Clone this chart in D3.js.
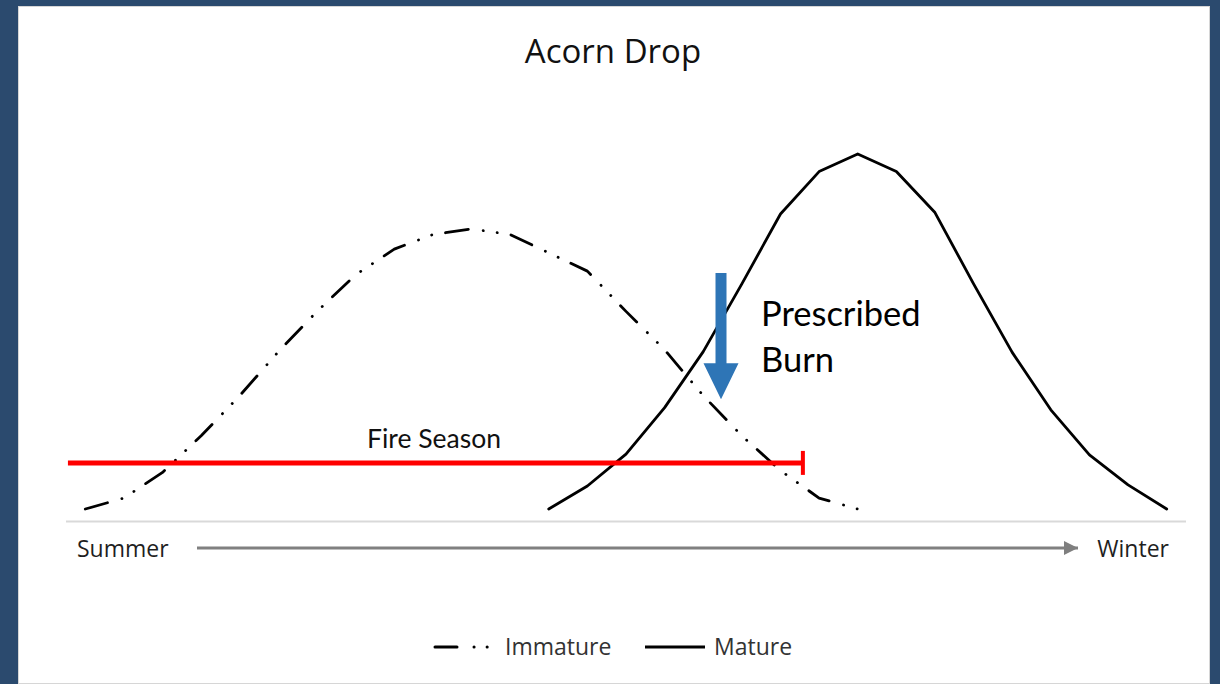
<!DOCTYPE html>
<html>
<head>
<meta charset="utf-8">
<script src="https://cdn.jsdelivr.net/npm/d3@7"></script>
<style>
  html, body { margin: 0; padding: 0; background: #2b4a6e; }
  #chart { position: absolute; left: 18px; top: 6px; width: 1192px; height: 678px; }
  svg { display: block; }
</style>
</head>
<body>
<div id="chart"></div>
<script>
// data (relative drop, peak of mature = 100)
var immature = [3, 6, 13, 23, 34, 46, 57, 67, 74, 78, 79.5, 78, 73, 68, 57, 46.5, 34, 23, 13.5, 6, 3];
var immatureStart = 0;
var mature = [3, 9.3, 18, 30.7, 46, 64.5, 83.6, 95.2, 100, 95.2, 84, 64.5, 45.8, 30.1, 17.8, 9.6, 3];
var matureStart = 12;
var numSlots = 29;
var seasonLabels = ["Summer", "Winter"];
var legendLabels = ["Immature", "Mature"];
var fireSeason = [-0.45, 18.58];   // in slot units
var fireLevel = 15.6;
var burnSlot = 16.46;
var burnRange = [67.5, 33];

var view_width = 1192;
var view_height = 678;
var ox = 18, oy = 6;   // page offset of the white panel

var svg = d3.select('#chart')
    .append('svg')
        .attr('width', view_width)
        .attr('height', view_height);

svg.append('rect')
    .attr('width', view_width)
    .attr('height', view_height)
    .attr('fill', '#ffffff')
    .attr('stroke', '#d6d6d6')
    .attr('stroke-width', 2);

var plot = svg.append('g')
    .attr('transform', 'translate(' + (-ox) + ',' + (-oy) + ')');

var x_scale = d3.scaleLinear()
    .domain([-0.5, numSlots - 0.5])
    .range([66, 1186]);
var y_scale = d3.scaleLinear()
    .domain([0, 100])
    .range([520, 154]);

// title
plot.append('text')
    .attr('x', 613)
    .attr('y', 63)
    .attr('text-anchor', 'middle')
    .attr('font-family', 'Open Sans')
    .attr('font-size', 33)
    .attr('fill', '#111111')
    .text('Acorn Drop');

// baseline
plot.append('line')
    .attr('x1', x_scale(-0.5)).attr('x2', x_scale(numSlots - 0.5))
    .attr('y1', y_scale(0) + 1.5).attr('y2', y_scale(0) + 1.5)
    .attr('stroke', '#d9d9d9')
    .attr('stroke-width', 2);

var line = d3.line()
    .x(function(d) { return x_scale(d.i); })
    .y(function(d) { return y_scale(d.v); });

var series = [
    {name: legendLabels[0], data: immature.map(function(v, k) { return {i: immatureStart + k, v: v}; }),
     dash: '23 15 0.1 14 0.1 14'},
    {name: legendLabels[1], data: mature.map(function(v, k) { return {i: matureStart + k, v: v}; }),
     dash: null}
];

plot.selectAll('.series')
    .data(series)
    .enter()
    .append('path')
        .attr('class', 'series')
        .attr('d', function(d) { return line(d.data); })
        .attr('fill', 'none')
        .attr('stroke', '#000000')
        .attr('stroke-width', 2.8)
        .attr('stroke-linecap', 'round')
        .attr('stroke-linejoin', 'round')
        .attr('stroke-dasharray', function(d) { return d.dash; });

// fire season bar
plot.append('line')
    .attr('x1', x_scale(fireSeason[0])).attr('x2', x_scale(fireSeason[1]))
    .attr('y1', y_scale(fireLevel)).attr('y2', y_scale(fireLevel))
    .attr('stroke', '#ff0000')
    .attr('stroke-width', 5);
plot.append('line')
    .attr('x1', x_scale(fireSeason[1])).attr('x2', x_scale(fireSeason[1]))
    .attr('y1', y_scale(fireLevel) - 12).attr('y2', y_scale(fireLevel) + 12)
    .attr('stroke', '#ff0000')
    .attr('stroke-width', 4);
plot.append('text')
    .attr('x', 434)
    .attr('y', 448)
    .attr('text-anchor', 'middle')
    .attr('font-family', 'Lato')
    .attr('font-size', 26.5)
    .attr('fill', '#111111')
    .text('Fire Season');

// prescribed burn arrow
var bx = x_scale(burnSlot);
var by0 = y_scale(burnRange[0]);
var by1 = y_scale(burnRange[1]);
plot.append('path')
    .attr('d', 'M' + (bx - 5.5) + ',' + by0 + 'H' + (bx + 5.5) + 'V' + (by1 - 36) +
               'H' + (bx + 17.5) + 'L' + bx + ',' + by1 + 'L' + (bx - 17.5) + ',' + (by1 - 36) +
               'H' + (bx - 5.5) + 'Z')
    .attr('fill', '#2e75b6');
var burn = plot.append('text')
    .attr('font-family', 'Lato')
    .attr('font-size', 34.5)
    .attr('fill', '#000000');
burn.append('tspan').attr('x', 761).attr('y', 326).text('Prescribed');
burn.append('tspan').attr('x', 761).attr('y', 372).text('Burn');

// summer -> winter axis
var defs = svg.append('defs');
defs.append('marker')
    .attr('id', 'head')
    .attr('viewBox', '0 0 10 10')
    .attr('refX', 10).attr('refY', 5)
    .attr('markerUnits', 'userSpaceOnUse')
    .attr('markerWidth', 16).attr('markerHeight', 14)
    .attr('orient', 'auto')
    .append('path')
        .attr('d', 'M0,0L10,5L0,10Z')
        .attr('fill', '#7f7f7f');
plot.append('line')
    .attr('x1', 197).attr('x2', 1078)
    .attr('y1', 548).attr('y2', 548)
    .attr('stroke', '#808080')
    .attr('stroke-width', 3)
    .attr('marker-end', 'url(#head)');

plot.selectAll('.season')
    .data(seasonLabels)
    .enter()
    .append('text')
        .attr('class', 'season')
        .attr('x', function(d, k) { return k == 0 ? 77 : 1169; })
        .attr('y', 557)
        .attr('text-anchor', function(d, k) { return k == 0 ? 'start' : 'end'; })
        .attr('font-family', 'Open Sans')
        .attr('font-size', 23)
        .attr('fill', '#1f1f1f')
        .text(function(d) { return d; });

// legend
var legend = plot.selectAll('.legend')
    .data(series)
    .enter()
    .append('g')
        .attr('class', 'legend')
        .attr('transform', function(d, k) { return 'translate(' + (k == 0 ? 435 : 645) + ',647)'; });
legend.append('line')
    .attr('x1', 0).attr('x2', 60)
    .attr('y1', 0).attr('y2', 0)
    .attr('stroke', '#000000')
    .attr('stroke-width', 3)
    .attr('stroke-linecap', function(d) { return d.dash ? 'round' : 'butt'; })
    .attr('stroke-dasharray', function(d) { return d.dash ? '22 17 0.1 13 0.1 100' : null; });
legend.append('text')
    .attr('x', function(d) { return d.dash ? 70 : 69; })
    .attr('y', 8)
    .attr('font-family', 'Open Sans')
    .attr('font-size', 23)
    .attr('fill', '#333333')
    .text(function(d) { return d.name; });
</script>
</body>
</html>
